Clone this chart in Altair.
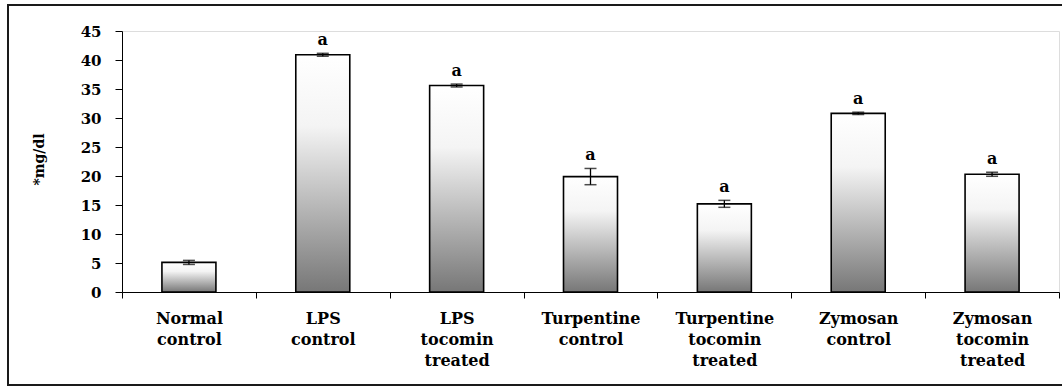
import altair as alt
import pandas as pd

groups = [
    "Normal control",
    "LPS control",
    "LPS tocomin treated",
    "Turpentine control",
    "Turpentine tocomin treated",
    "Zymosan control",
    "Zymosan tocomin treated",
]
means = [5.1, 40.9, 35.6, 19.9, 15.2, 30.8, 20.3]
errors = [0.35, 0.25, 0.25, 1.4, 0.6, 0.2, 0.35]
letters = ["", "a", "a", "a", "a", "a", "a"]
y_ticks = [0, 5, 10, 15, 20, 25, 30, 35, 40, 45]

df = pd.DataFrame({"group": groups, "mean": means, "err": errors, "sig": letters})
df["lo"] = df["mean"] - df["err"]
df["hi"] = df["mean"] + df["err"]

FONT = "DejaVu Serif"

x_axis = alt.Axis(
    title=None,
    labelAngle=0,
    labelFont=FONT,
    labelFontWeight="bold",
    labelFontSize=16,
    labelColor="black",
    labelLineHeight=21,
    labelPadding=12,
    labelExpr="split(datum.label, ' ')",
    tickBand="extent",
    tickSize=6,
    tickColor="black",
    domainColor="black",
)
y_axis = alt.Axis(
    title="*mg/dl",
    titleFont=FONT,
    titleFontWeight="bold",
    titleFontSize=14,
    titleColor="black",
    titleAngle=-90,
    titleAlign="center",
    titleBaseline="middle",
    titleX=-83,
    titleY=128,
    values=y_ticks,
    labelOverlap=False,
    labelFont=FONT,
    labelFontWeight="bold",
    labelFontSize=15,
    labelColor="black",
    labelPadding=14,
    tickSize=7,
    tickColor="black",
    domainColor="black",
    grid=False,
)

x_scale = alt.Scale(paddingInner=0, paddingOuter=0)
y_scale = alt.Scale(domain=[0, 45], nice=False)


def xe():
    return alt.X("group:N", sort=groups, scale=x_scale, axis=x_axis)


def ye(field):
    return alt.Y(field, scale=y_scale, axis=y_axis)


grad = alt.Gradient(
    gradient="linear",
    stops=[
        alt.GradientStop(color="#ffffff", offset=0),
        alt.GradientStop(color="#f4f4f4", offset=0.3),
        alt.GradientStop(color="#777777", offset=1),
    ],
    x1=0, x2=0, y1=0, y2=1,
)

bars = alt.Chart(df).mark_bar(
    size=54, color=grad, stroke="black", strokeWidth=1.6
).encode(x=xe(), y=ye("mean:Q"))

whisker = alt.Chart(df).mark_rule(color="black", strokeWidth=1.3).encode(
    x=xe(), y=ye("lo:Q"), y2="hi:Q"
)

cap_lo = alt.Chart(df).mark_tick(color="black", size=12, thickness=1.5).encode(
    x=xe(), y=ye("lo:Q")
)
cap_hi = alt.Chart(df).mark_tick(color="black", size=12, thickness=1.5).encode(
    x=xe(), y=ye("hi:Q")
)

sig = alt.Chart(df).mark_text(
    font=FONT, fontWeight="bold", fontSize=16, color="black",
    baseline="bottom", dy=-5,
).encode(x=xe(), y=ye("hi:Q"), text="sig:N")

frame = alt.Chart(df).mark_rect(
    fill=None, stroke="#1a1a1a", strokeWidth=2
).encode(
    x=alt.value(-114), x2=alt.value(945),
    y=alt.value(-26), y2=alt.value(354),
)

chart = alt.layer(frame, bars, whisker, cap_lo, cap_hi, sig).properties(
    width=937,
    height=261,
    autosize=alt.AutoSizeParams(type="none"),
    padding={"left": 122, "top": 31, "right": 3, "bottom": 95},
).configure_view(stroke=None).configure(background="white")

chart.save("out.html", embed_options={"renderer": "svg", "actions": False})
